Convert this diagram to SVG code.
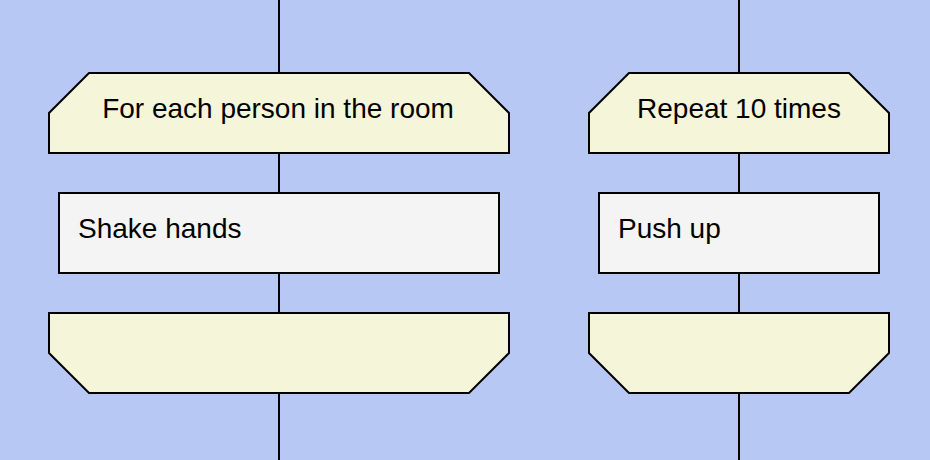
<svg xmlns="http://www.w3.org/2000/svg" width="930" height="460" viewBox="0 0 930 460">
<style>
.loop{fill:#f4f5d9;stroke:#000;stroke-width:2}
.proc{fill:#f4f4f4;stroke:#000;stroke-width:2}
.conn{stroke:#000;stroke-width:2;fill:none}
text{font-family:"Liberation Sans",Arial,sans-serif;font-size:28px;fill:#000}
</style>
<rect x="0" y="0" width="930" height="460" fill="#b7c8f4"/>
<g id="connectors">
<line class="conn" x1="279" y1="0" x2="279" y2="73"/>
<line class="conn" x1="279" y1="153" x2="279" y2="193"/>
<line class="conn" x1="279" y1="273" x2="279" y2="313"/>
<line class="conn" x1="279" y1="393" x2="279" y2="460"/>
<line class="conn" x1="739" y1="0" x2="739" y2="73"/>
<line class="conn" x1="739" y1="153" x2="739" y2="193"/>
<line class="conn" x1="739" y1="273" x2="739" y2="313"/>
<line class="conn" x1="739" y1="393" x2="739" y2="460"/>
</g>
<g id="loop1-start">
<polygon class="loop" points="89,73 469,73 509,113 509,153 49,153 49,113"/>
<text x="278" y="118" text-anchor="middle">For each person in the room</text>
</g>
<g id="shake-hands">
<rect class="proc" x="59" y="193" width="440" height="80"/>
<text x="78" y="238">Shake hands</text>
</g>
<g id="loop1-end">
<polygon class="loop" points="49,313 509,313 509,353 469,393 89,393 49,353"/>
</g>
<g id="loop2-start">
<polygon class="loop" points="629,73 849,73 889,113 889,153 589,153 589,113"/>
<text x="739" y="118" text-anchor="middle">Repeat 10 times</text>
</g>
<g id="push-up">
<rect class="proc" x="599" y="193" width="280" height="80"/>
<text x="618" y="238">Push up</text>
</g>
<g id="loop2-end">
<polygon class="loop" points="589,313 889,313 889,353 849,393 629,393 589,353"/>
</g>
</svg>
